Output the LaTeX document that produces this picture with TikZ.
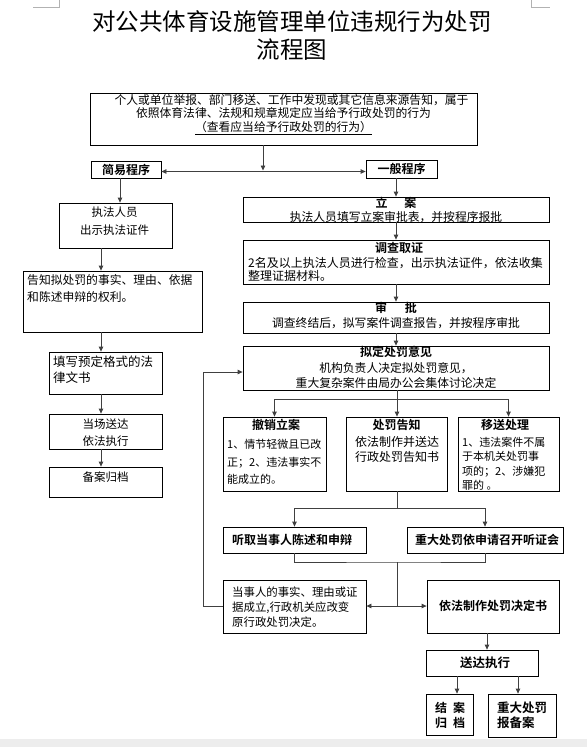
\documentclass[tikz,border=0pt]{standalone}
\usepackage{fontspec}
\setmainfont{Noto Sans CJK SC}[BoldFont={Noto Sans CJK SC Bold}]
\usetikzlibrary{arrows.meta}
\newcommand\bx[5]{\node[box,minimum width={#4-#2},minimum height={#5-#3}] (#1) at ({(#2+#4)/2},{(#3+#5)/2}) {};}
\newcommand\fsz[2]{\fontsize{#1}{#2}\selectfont}
\tikzset{
  box/.style={draw=black,line width=0.8pt,inner sep=0pt},
  txt/.style={inner sep=0pt,align=center},
  txl/.style={inner sep=0pt,align=left},
  hd/.style={inner sep=0pt,font=\fsz{12}{14}\bfseries},
  ln/.style={draw=black!75,line width=0.8pt},
  arr/.style={ln,-{Triangle[length=5pt,width=4.5pt]}},
  darr/.style={ln,{Triangle[length=5pt,width=4.5pt]}-{Triangle[length=5pt,width=4.5pt]}},
  cropmk/.style={draw=black!30,line width=0.6pt}
}
\begin{document}
\begin{tikzpicture}[x=1pt,y=-1pt]
\fill[white] (0,0) rectangle (587,747);
\useasboundingbox (0,0) rectangle (587,747);
\fill[black!7] (0,739) rectangle (587,747);
\draw[cropmk] (33,7) -- (59,7) -- (59,0);
\draw[cropmk] (531,0) -- (531,7) -- (550,7);

% title
\node[txt,font=\fsz{23.5}{28}] (t1) at (292,22) {对公共体育设施管理单位违规行为处罚};
\node[txt,font=\fsz{23.5}{28}] (t2) at (292,50) {流程图};

% boxes
\bx{top}{90}{93}{477}{145}
\bx{jy}{91}{161}{161}{178}
\bx{yb}{366}{160}{437}{178}
\bx{zf}{59}{203}{172}{248}
\bx{gz}{23}{271}{202}{332}
\bx{tx}{49}{352}{162}{394}
\bx{dc}{49}{414}{162}{449}
\bx{ba}{49}{467}{162}{497}
\bx{la}{243}{197}{549}{222}
\bx{dq}{243}{240}{549}{284}
\bx{sp}{243}{302}{549}{333}
\bx{nd}{243}{346}{549}{390}
\bx{cx}{223}{417}{326}{491}
\bx{cf}{346}{417}{447}{491}
\bx{ys}{458}{417}{559}{491}
\bx{tq}{223}{527}{366}{553}
\bx{zd}{407}{527}{563}{553}
\bx{ds}{223}{580}{366}{633}
\bx{jd}{427}{580}{559}{633}
\bx{sd}{426}{650}{538}{676}
\bx{ja}{426}{694}{473}{735}
\bx{bb}{488}{694}{556}{737}

% texts
\node[txt,anchor=north,font=\fsz{11.8}{13.5}] (topt) at (283.5,94.2)
  {\hspace*{16pt}个人或单位举报、部门移送、工作中发现或其它信息来源告知，属于\\
   依照体育法律、法规和规章规定应当给予行政处罚的行为\\
   \underline{（查看应当给予行政处罚的行为）}};
\node[hd] (jyt) at (126,169.5) {简易程序};
\node[hd] (ybt) at (401.5,169) {一般程序};
\node[txt,anchor=north,font=\fsz{11.5}{18}] (zft) at (114.5,206.3) {执法人员\\出示执法证件};
\node[txl,anchor=north west,font=\fsz{11.8}{17}] (gzt) at (27,274.2) {告知拟处罚的事实、理由、依据\\和陈述申辩的权利。};
\node[txl,anchor=north west,font=\fsz{12.5}{16}] (txt) at (53,355.8) {填写预定格式的法\\律文书};
\node[txt,anchor=north,font=\fsz{11.5}{17}] (dct) at (105.5,418.3) {当场送达\\依法执行};
\node[txt,font=\fsz{11.5}{14}] (bat) at (105.5,477) {备案归档};

\node[txt,anchor=north,font=\fsz{11.8}{14}] (lat) at (396,197)
  {{\fsz{12}{14}\bfseries 立\hspace{17pt}案}\\执法人员填写立案审批表，并按程序报批};
\node[hd] (dqt) at (399,248) {调查取证};
\node[txl,anchor=north west,font=\fsz{12}{13}] (dqb) at (248,257) {2名及以上执法人员进行检查，出示执法证件，依法收集\\整理证据材料。};
\node[txt,anchor=north,font=\fsz{11.8}{15}] (spt) at (396,302)
  {{\fsz{12}{14}\bfseries 审\hspace{18pt}批}\\调查终结后，拟写案件调查报告，并按程序审批};
\node[txt,anchor=north,font=\fsz{11.8}{15.5}] (ndt) at (396,346)
  {{\fsz{12}{14}\bfseries 拟定处罚意见}\\机构负责人决定拟处罚意见，\\重大复杂案件由局办公会集体讨论决定};

\node[hd] (cxh) at (276,425) {撤销立案};
\node[txl,anchor=north west,font=\fsz{11}{17.5}] (cxb) at (227,439.5) {1、情节轻微且已改\\正；2、违法事实不\\能成立的。};
\node[hd] (cfh) at (396.5,425) {处罚告知};
\node[txt,anchor=north,font=\fsz{12}{15}] (cfb) at (397,436) {依法制作并送达\\行政处罚告知书};
\node[hd] (ysh) at (505,425) {移送处理};
\node[txl,anchor=north west,font=\fsz{11}{14.6}] (ysb) at (462,436.5) {1、违法案件不属\\于本机关处罚事\\项的；2、涉嫌犯\\罪的 。};

\node[hd] (tqt) at (292,540) {听取当事人陈述和申辩};
\node[hd] (zdt) at (487,540) {重大处罚依申请召开听证会};
\node[txl,anchor=north west,font=\fsz{11.4}{15}] (dst) at (232,586.3) {当事人的事实、理由或证\\据成立,行政机关应改变\\原行政处罚决定。};
\node[hd] (jdt) at (493,606) {依法制作处罚决定书};
\node[hd,font=\fsz{12.5}{14}\bfseries] (sdt) at (485,663) {送达执行};
\node[txt,anchor=north,font=\fsz{12}{14.5}\bfseries] (jat) at (450,702) {结\hspace{6pt}案\\归\hspace{6pt}档};
\node[txl,anchor=north west,font=\fsz{12.5}{14.5}\bfseries] (bbt) at (497,702) {重大处罚\\报备案};

% connectors
\coordinate (c1) at (263,171.5);
\coordinate (xa) at (120,0);
\coordinate (xb) at (101,0);
\coordinate (xm) at (396,0);
\coordinate (j1) at (397,399);
\coordinate (j2) at (397,508);
\coordinate (j3) at (397,562);
\coordinate (j4) at (397,606);
\coordinate (fbt) at (203,372);
\coordinate (xj) at (487,0);
\coordinate (xk) at (457,0);
\coordinate (xl) at (518,0);

\draw[arr] (top.south -| c1) -- ([yshift=1pt]c1);
\draw[darr] (jy.east |- c1) -- (yb.west |- c1);
\draw[arr] (jy.south -| xa) -- (zf.north -| xa);
\draw[arr] (zf.south -| xb) -- (gz.north -| xb);
\draw[arr] (gz.south -| xb) -- (tx.north -| xb);
\draw[arr] (tx.south -| xb) -- (dc.north -| xb);
\draw[arr] (dc.south -| xb) -- (ba.north -| xb);

\draw[arr] (yb.south -| xm) -- (la.north -| xm);
\draw[arr] (la.south -| xm) -- (dq.north -| xm);
\draw[arr] (dq.south -| xm) -- (sp.north -| xm);
\draw[arr] (sp.south -| xm) -- (nd.north -| xm);

\draw[ln] (nd.south -| j1) -- (j1);
\draw[arr] (j1) -| (cx.north);
\draw[arr] (j1) -- (cf.north -| j1);
\draw[arr] (j1) -| (ys.north);

\draw[ln] (cf.south -| j2) -- (j2);
\draw[arr] (j2) -| (tq.north);
\draw[arr] (j2) -| (zd.north);

\draw[ln] (tq.south) |- (j3) -| (zd.south);
\draw[ln] (j3) -- (j4);
\draw[arr] (j4) -- (ds.east |- j4);
\draw[arr] (j4) -- (jd.west |- j4);
\draw[arr] (ds.west |- j4) -| (fbt) -- (nd.west |- fbt);

\draw[arr] (jd.south -| xj) -- (sd.north -| xj);
\draw[arr] (sd.south -| xk) -- (ja.north -| xk);
\draw[arr] (sd.south -| xl) -- (bb.north -| xl);
\end{tikzpicture}
\end{document}
